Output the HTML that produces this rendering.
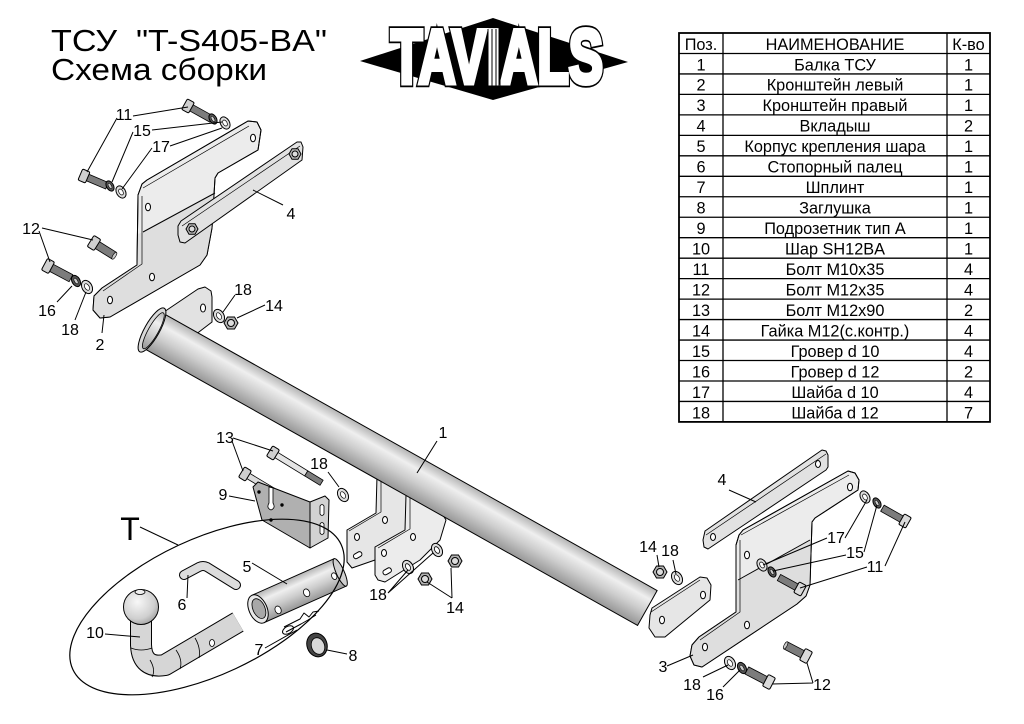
<!DOCTYPE html>
<html><head><meta charset="utf-8">
<style>
html,body{margin:0;padding:0;background:#fff;}
svg{display:block;}
text{font-family:"Liberation Sans",Arial,sans-serif;}
</style></head><body>
<svg width="1024" height="724" viewBox="0 0 1024 724" xmlns="http://www.w3.org/2000/svg">
<defs>
<linearGradient id="tg" x1="0" y1="0" x2="0" y2="1">
<stop offset="0" stop-color="#b4b4b4"/><stop offset="0.28" stop-color="#efefef"/><stop offset="0.6" stop-color="#cdcdcd"/><stop offset="1" stop-color="#979797"/>
</linearGradient>
<radialGradient id="bg" cx="0.4" cy="0.35" r="0.7">
<stop offset="0" stop-color="#f8f8f8"/><stop offset="0.7" stop-color="#cfcfcf"/><stop offset="1" stop-color="#a0a0a0"/>
</radialGradient>
</defs>

<!-- Title -->
<text x="51" y="51" font-size="31" textLength="276" lengthAdjust="spacingAndGlyphs" xml:space="preserve" fill="#000">ТСУ  "T-S405-BA"</text>
<text x="51" y="80" font-size="31" textLength="216" lengthAdjust="spacingAndGlyphs" fill="#000">Схема сборки</text>

<!-- Logo -->
<polygon points="360,61 493,18 628,62 493,100" fill="#000"/>
<text x="391" y="83" font-size="76" font-weight="bold" textLength="212" lengthAdjust="spacingAndGlyphs" fill="#000" stroke="#000" stroke-width="8.5" stroke-linejoin="miter">TAVIALS</text>
<text x="391" y="83" font-size="76" font-weight="bold" textLength="212" lengthAdjust="spacingAndGlyphs" fill="#fff" stroke="#fff" stroke-width="5" stroke-linejoin="miter">TAVIALS</text>
<g stroke="#000" stroke-width="1">
<line x1="488" y1="29" x2="488" y2="87"/><line x1="492" y1="29" x2="492" y2="87"/><line x1="496" y1="29" x2="496" y2="87"/><line x1="500" y1="29" x2="500" y2="87"/>
</g>

<!-- Table -->
<g stroke="#000" stroke-width="1.3" fill="none">
<rect x="679" y="33" width="311" height="388.9" stroke-width="1.8"/>
<line x1="723" y1="33" x2="723" y2="421.9"/>
<line x1="947" y1="33" x2="947" y2="421.9"/>
<line x1="679" y1="53.47" x2="990" y2="53.47"/>
<line x1="679" y1="73.94" x2="990" y2="73.94"/>
<line x1="679" y1="94.41" x2="990" y2="94.41"/>
<line x1="679" y1="114.88" x2="990" y2="114.88"/>
<line x1="679" y1="135.35" x2="990" y2="135.35"/>
<line x1="679" y1="155.82" x2="990" y2="155.82"/>
<line x1="679" y1="176.29" x2="990" y2="176.29"/>
<line x1="679" y1="196.76" x2="990" y2="196.76"/>
<line x1="679" y1="217.23" x2="990" y2="217.23"/>
<line x1="679" y1="237.7" x2="990" y2="237.7"/>
<line x1="679" y1="258.17" x2="990" y2="258.17"/>
<line x1="679" y1="278.64" x2="990" y2="278.64"/>
<line x1="679" y1="299.11" x2="990" y2="299.11"/>
<line x1="679" y1="319.58" x2="990" y2="319.58"/>
<line x1="679" y1="340.05" x2="990" y2="340.05"/>
<line x1="679" y1="360.52" x2="990" y2="360.52"/>
<line x1="679" y1="380.99" x2="990" y2="380.99"/>
<line x1="679" y1="401.46" x2="990" y2="401.46"/>
</g>
<g font-size="16.3" text-anchor="middle" fill="#000">
<text x="701" y="49.8">Поз.</text><text x="835" y="49.8">НАИМЕНОВАНИЕ</text><text x="968.5" y="49.8">К-во</text>
<text x="701" y="70.3">1</text><text x="835" y="70.3">Балка ТСУ</text><text x="968.5" y="70.3">1</text>
<text x="701" y="90.7">2</text><text x="835" y="90.7">Кронштейн левый</text><text x="968.5" y="90.7">1</text>
<text x="701" y="111.2">3</text><text x="835" y="111.2">Кронштейн правый</text><text x="968.5" y="111.2">1</text>
<text x="701" y="131.7">4</text><text x="835" y="131.7">Вкладыш</text><text x="968.5" y="131.7">2</text>
<text x="701" y="152.2">5</text><text x="835" y="152.2">Корпус крепления шара</text><text x="968.5" y="152.2">1</text>
<text x="701" y="172.6">6</text><text x="835" y="172.6">Стопорный палец</text><text x="968.5" y="172.6">1</text>
<text x="701" y="193.1">7</text><text x="835" y="193.1">Шплинт</text><text x="968.5" y="193.1">1</text>
<text x="701" y="213.6">8</text><text x="835" y="213.6">Заглушка</text><text x="968.5" y="213.6">1</text>
<text x="701" y="234.0">9</text><text x="835" y="234.0">Подрозетник тип А</text><text x="968.5" y="234.0">1</text>
<text x="701" y="254.5">10</text><text x="835" y="254.5">Шар SH12BA</text><text x="968.5" y="254.5">1</text>
<text x="701" y="275.0">11</text><text x="835" y="275.0">Болт М10х35</text><text x="968.5" y="275.0">4</text>
<text x="701" y="295.4">12</text><text x="835" y="295.4">Болт М12х35</text><text x="968.5" y="295.4">4</text>
<text x="701" y="315.9">13</text><text x="835" y="315.9">Болт М12х90</text><text x="968.5" y="315.9">2</text>
<text x="701" y="336.4">14</text><text x="835" y="336.4">Гайка М12(с.контр.)</text><text x="968.5" y="336.4">4</text>
<text x="701" y="356.9">15</text><text x="835" y="356.9">Гровер d 10</text><text x="968.5" y="356.9">4</text>
<text x="701" y="377.3">16</text><text x="835" y="377.3">Гровер d 12</text><text x="968.5" y="377.3">2</text>
<text x="701" y="397.8">17</text><text x="835" y="397.8">Шайба d 10</text><text x="968.5" y="397.8">4</text>
<text x="701" y="418.3">18</text><text x="835" y="418.3">Шайба d 12</text><text x="968.5" y="418.3">7</text>
</g>

<!-- ============ LEFT BRACKET 2 ============ -->
<g stroke="#000" stroke-width="1" stroke-linejoin="round">
<polygon points="147,180 248,121 257,122 261,130 258,150 218,173 215,178 212,228 207,255 200,265 110,317 100,318 93,310 94,296 102,288 137,265 138,195 142,184" fill="#ececec"/>
<polygon points="143,232 215,193 212,228 207,255 200,265 110,317 100,318 93,310 94,296 102,288 137,265 138,234" fill="#dedede" stroke="none"/>
<path d="M143,232 L215,193" fill="none"/>
<path d="M143,188 L249,126 M142,196 L142,264 L103,291" fill="none" stroke-width=".7"/>
<polygon points="147,180 248,121 257,122 261,130 258,150 218,173 215,178 212,228 207,255 200,265 110,317 100,318 93,310 94,296 102,288 137,265 138,195 142,184" fill="none"/>
<ellipse cx="148" cy="207" rx="2.5" ry="3.8" fill="#fff"/>
<ellipse cx="253" cy="138" rx="2.5" ry="3.8" fill="#fff"/>
<ellipse cx="152" cy="277" rx="2.5" ry="3.8" fill="#fff"/>
<ellipse cx="110" cy="300" rx="2.5" ry="3.8" fill="#fff"/>
</g>
<!-- Plate 4 left -->
<g stroke="#000" stroke-width="1" stroke-linejoin="round">
<polygon points="181,221 297,142 301,142 303,147 302,160 185,243 180,242 178,235 178,226" fill="#e2e2e2"/>
<path d="M182,226 L300,146" fill="none" stroke-width=".7"/>
<g transform="translate(192,229)"><polygon points="6,0 3,5.2 -3,5.2 -6,0 -3,-5.2 3,-5.2" fill="#b8b8b8"/><circle r="3" fill="#ddd"/></g>
<g transform="translate(295,154)"><polygon points="6,0 3,5.2 -3,5.2 -6,0 -3,-5.2 3,-5.2" fill="#b8b8b8"/><circle r="3" fill="#ddd"/></g>
</g>

<!-- ============ MIDDLE BRACKETS (behind tube) ============ -->
<g stroke="#000" stroke-width="1" stroke-linejoin="round">
<polygon points="347,530 376,513 377,476 382,472 386,477 387,484 410,494 410,530 375,560 352,568 347,562" fill="#e6e6e6"/>
<path d="M381,476 L381,512 L349,531" fill="none" stroke-width=".7"/>
<ellipse cx="385" cy="520" rx="2.5" ry="3.5" fill="#fff"/>
<ellipse cx="357" cy="537" rx="2.5" ry="3.5" fill="#fff"/>
<rect x="353" y="553" width="9" height="5" rx="2.5" fill="#fff" transform="rotate(-30 357 555)"/>
<polygon points="375,547 405,530 406,495 410,490 415,494 416,500 430,505 440,510 446,520 440,540 420,560 385,582 378,580 375,575" fill="#ececec"/>
<path d="M410,494 L410,529 L378,548" fill="none" stroke-width=".7"/>
<ellipse cx="413" cy="537" rx="2.5" ry="3.5" fill="#fff"/>
<ellipse cx="384" cy="553" rx="2.5" ry="3.5" fill="#fff"/>
<rect x="383" y="569" width="9" height="5" rx="2.5" fill="#fff" transform="rotate(-30 387 572)"/>
</g>

<!-- Left flange on tube -->
<g stroke="#000" stroke-width="1" stroke-linejoin="round">
<polygon points="158,316 198,289 205,287 211,291 212,297 212,322 195,335 165,335" fill="#e2e2e2"/>
<ellipse cx="203" cy="308" rx="2.5" ry="4" fill="#fff"/>
</g>

<!-- ============ TUBE 1 ============ -->
<g transform="translate(152,330) rotate(29.3)" stroke="#000" stroke-width="1">
<rect x="0" y="-20" width="568" height="40" fill="url(#tg)"/>
<ellipse cx="0" cy="0" rx="7.5" ry="25" fill="#d8d8d8"/>
<ellipse cx="1.5" cy="0" rx="5" ry="20.5" fill="url(#tg)" stroke-width=".8"/>
</g>

<!-- washers/nuts middle -->
<g stroke="#000" stroke-width="1">
<g transform="translate(408,567) rotate(-30)"><ellipse rx="5" ry="7" fill="#ddd"/><ellipse rx="2.2" ry="3.6" fill="#fff" stroke-width=".8"/></g>
<g transform="translate(437,550) rotate(-30)"><ellipse rx="5" ry="7" fill="#ddd"/><ellipse rx="2.2" ry="3.6" fill="#fff" stroke-width=".8"/></g>
<g transform="translate(425,579)"><polygon points="7,0 3.5,6 -3.5,6 -7,0 -3.5,-6 3.5,-6" fill="#b4b4b4"/><circle r="3.5" fill="#ddd"/></g>
<g transform="translate(455,561)"><polygon points="7,0 3.5,6 -3.5,6 -7,0 -3.5,-6 3.5,-6" fill="#b4b4b4"/><circle r="3.5" fill="#ddd"/></g>
</g>

<!-- ============ LEFT FASTENERS ============ -->
<g stroke="#000" stroke-width="1">
<g transform="translate(188,106) rotate(29)"><rect x="3" y="-3.5" width="24" height="7" fill="#7c7c7c" stroke-width=".8"/><rect x="-4" y="-6" width="8" height="12" rx="1.5" fill="#cfcfcf"/></g>
<g transform="translate(84,176) rotate(23)"><rect x="3" y="-3.5" width="22" height="7" fill="#7c7c7c" stroke-width=".8"/><rect x="-4" y="-6" width="8" height="12" rx="1.5" fill="#cfcfcf"/></g>
<g transform="translate(213,119) rotate(-30)"><ellipse rx="3.5" ry="5.5" fill="#555"/><ellipse rx="1.4" ry="3" fill="#ccc" stroke-width=".6"/></g>
<g transform="translate(225,123) rotate(-30)"><ellipse rx="4.5" ry="6.5" fill="#ddd"/><ellipse rx="2" ry="3.3" fill="#fff" stroke-width=".7"/></g>
<g transform="translate(110,186) rotate(-30)"><ellipse rx="3.5" ry="5.5" fill="#555"/><ellipse rx="1.4" ry="3" fill="#ccc" stroke-width=".6"/></g>
<g transform="translate(121,192) rotate(-30)"><ellipse rx="4.5" ry="6.5" fill="#ddd"/><ellipse rx="2" ry="3.3" fill="#fff" stroke-width=".7"/></g>
<g transform="translate(94,243) rotate(32)"><rect x="3" y="-4" width="21" height="8" fill="#7c7c7c" stroke-width=".8"/><ellipse cx="24" rx="1.5" ry="4" fill="#ccc" stroke-width=".6"/><rect x="-4" y="-6.5" width="8" height="13" rx="1.5" fill="#cfcfcf"/></g>
<g transform="translate(48,266) rotate(28)"><rect x="3" y="-4" width="23" height="8" fill="#7c7c7c" stroke-width=".8"/><rect x="-4" y="-6.5" width="8" height="13" rx="1.5" fill="#cfcfcf"/></g>
<g transform="translate(76,281) rotate(-30)"><ellipse rx="4" ry="6" fill="#555"/><ellipse rx="1.6" ry="3.2" fill="#ccc" stroke-width=".6"/></g>
<g transform="translate(87,287) rotate(-30)"><ellipse rx="5" ry="7" fill="#ddd"/><ellipse rx="2.2" ry="3.6" fill="#fff" stroke-width=".7"/></g>
<g transform="translate(219,316) rotate(-30)"><ellipse rx="5" ry="7" fill="#ddd"/><ellipse rx="2.2" ry="3.6" fill="#fff" stroke-width=".7"/></g>
<g transform="translate(231,323)"><polygon points="7,0 3.5,6 -3.5,6 -7,0 -3.5,-6 3.5,-6" fill="#b4b4b4"/><circle r="3.5" fill="#ddd"/></g>
</g>

<!-- ============ PART 9 + BOLTS 13 ============ -->
<g stroke="#000" stroke-width="1" stroke-linejoin="round">
<g transform="translate(245,474) rotate(31)"><rect x="3" y="-3" width="30" height="6" fill="#dcdcdc" stroke-width=".8"/><rect x="-4" y="-6" width="8" height="12" rx="1.5" fill="#cfcfcf"/></g>
<polygon points="253,487 258,482 310,502 310,548 262,520" fill="#b0b0b0"/>
<polygon points="310,502 325,496 329,500 328,538 310,548" fill="#d2d2d2"/>
<path d="M269,487 L269,503 Q266,508 271,510 Q276,508 273,503 L273,488 Z" fill="#fff" stroke-width=".8"/>
<path d="M320,506 L320,514 Q322,517 324,514 L324,506 Q322,503 320,506 Z" fill="#fff" stroke-width=".8"/>
<path d="M320,524 L320,533 Q322,536 324,533 L324,524 Q322,521 320,524 Z" fill="#fff" stroke-width=".8"/>
<circle cx="259" cy="492" r="1.2" fill="#000"/><circle cx="282" cy="505" r="1.2" fill="#000"/><circle cx="271" cy="520" r="1.2" fill="#000"/>
<g transform="translate(273,453) rotate(31.5)"><rect x="3" y="-3" width="36" height="6" fill="#e4e4e4" stroke-width=".8"/><rect x="39" y="-3" width="18" height="6" fill="#7c7c7c" stroke-width=".8"/><rect x="-4" y="-6" width="8" height="12" rx="1.5" fill="#cfcfcf"/></g>
<g transform="translate(343,495) rotate(-30)"><ellipse rx="5" ry="7" fill="#ddd"/><ellipse rx="2.2" ry="3.6" fill="#fff" stroke-width=".7"/></g>
</g>

<!-- ============ T GROUP ============ -->
<g stroke="#000" stroke-linejoin="round">
<path d="M141,620 L141,645 Q142,669 165,665 L238,622" fill="none" stroke="#000" stroke-width="22"/>
<path d="M141,620 L141,645 Q142,669 165,665 L238,622" fill="none" stroke="#d6d6d6" stroke-width="20"/>
<path d="M131,648 Q141,652 152,648 M150,660 Q156,670 152,677 M176,650 Q183,660 180,669 M195,638 Q201,648 199,658" fill="none" stroke-width=".8"/>
<ellipse cx="212" cy="643" rx="2.5" ry="3.5" fill="#fff" stroke-width=".8"/>
<circle cx="141" cy="607" r="17.5" fill="url(#bg)" stroke-width="1"/>
<ellipse cx="140" cy="592" rx="5" ry="2.5" fill="#eee" stroke-width=".8"/>
<path d="M184,575 L199,567 Q203,565 207,567 L236,585" fill="none" stroke="#000" stroke-width="10" stroke-linecap="round"/>
<path d="M184,575 L199,567 Q203,565 207,567 L236,585" fill="none" stroke="#dcdcdc" stroke-width="8" stroke-linecap="round"/>
<g transform="translate(258,609) rotate(-24)" stroke-width="1">
<rect x="0" y="-15" width="90" height="30" fill="url(#tg)"/>
<ellipse cx="90" cy="0" rx="4" ry="15" fill="#cfcfcf"/>
<ellipse cx="0" cy="0" rx="9" ry="15" fill="#e8e8e8"/>
<ellipse cx="1" cy="0" rx="6" ry="10.5" fill="#a8a8a8" stroke-width=".8"/>
<ellipse cx="18" cy="9" rx="3" ry="4" fill="#fff" stroke-width=".8"/>
<ellipse cx="51" cy="5" rx="3" ry="4" fill="#fff" stroke-width=".8"/>
<ellipse cx="83" cy="1" rx="2.5" ry="3.5" fill="#fff" stroke-width=".8"/>
</g>
<ellipse cx="288" cy="630" rx="6" ry="3.5" transform="rotate(-30 288 630)" fill="none" stroke-width="1"/>
<path d="M284,627 L300,619 L304,613 L309,617 L313,612 L319,611 M286,632 L301,624 L308,620 L316,615" fill="none" stroke-width="1"/>
<ellipse cx="317" cy="645" rx="10" ry="12" transform="rotate(-20 317 645)" fill="#444" stroke-width="1"/>
<ellipse cx="318" cy="646" rx="6.5" ry="8.5" transform="rotate(-20 318 646)" fill="#d8d8d8" stroke-width=".8"/>
<ellipse cx="207" cy="607" rx="148" ry="68" transform="rotate(-25 207 607)" fill="none" stroke-width="1.2"/>
</g>

<!-- ============ RIGHT SIDE ============ -->
<g stroke="#000" stroke-width="1" stroke-linejoin="round">
<g transform="translate(660,572)"><polygon points="7,0 3.5,6 -3.5,6 -7,0 -3.5,-6 3.5,-6" fill="#b4b4b4"/><circle r="3.5" fill="#ddd"/></g>
<g transform="translate(677,578) rotate(-30)"><ellipse rx="5" ry="7" fill="#ddd"/><ellipse rx="2.2" ry="3.6" fill="#fff" stroke-width=".7"/></g>
<polygon points="652,608 700,577 707,578 711,585 710,600 665,637 655,637 649,628 650,615" fill="#e6e6e6"/>
<path d="M651,612 L700,580" fill="none" stroke-width=".7"/>
<ellipse cx="662" cy="620" rx="2.5" ry="3.8" fill="#fff"/>
<ellipse cx="703" cy="595" rx="2.5" ry="3.8" fill="#fff"/>
<polygon points="705,531 822,450 826,451 828,455 828,467 826,470 708,549 704,547 703,540" fill="#e2e2e2"/>
<path d="M706,535 L826,454" fill="none" stroke-width=".7"/>
<ellipse cx="713" cy="537" rx="2.5" ry="3.5" fill="#fff"/>
<ellipse cx="818" cy="464" rx="2.5" ry="3.5" fill="#fff"/>
<polygon points="743,530 848,471 855,473 859,480 858,490 815,518 812,522 810,585 806,596 797,604 702,667 694,665 690,656 692,645 699,637 736,612 736,545 739,535" fill="#ececec"/>
<polygon points="738,580 810,540 810,585 806,596 797,604 702,667 694,665 690,656 692,645 699,637 736,612 736,580" fill="#dedede" stroke="none"/>
<path d="M738,580 L810,540" fill="none"/>
<path d="M741,535 L849,475 M740,540 L740,612 L700,640" fill="none" stroke-width=".7"/>
<polygon points="743,530 848,471 855,473 859,480 858,490 815,518 812,522 810,585 806,596 797,604 702,667 694,665 690,656 692,645 699,637 736,612 736,545 739,535" fill="none"/>
<ellipse cx="850" cy="487" rx="2.5" ry="3.8" fill="#fff"/>
<ellipse cx="747" cy="555" rx="2.5" ry="3.8" fill="#fff"/>
<ellipse cx="747" cy="625" rx="2.5" ry="3.8" fill="#fff"/>
<ellipse cx="705" cy="647" rx="2.5" ry="3.8" fill="#fff"/>
<g transform="translate(865,497) rotate(-30)"><ellipse rx="4.5" ry="6.5" fill="#ddd"/><ellipse rx="2" ry="3.3" fill="#fff" stroke-width=".7"/></g>
<g transform="translate(877,503) rotate(-30)"><ellipse rx="3.5" ry="5.5" fill="#555"/><ellipse rx="1.4" ry="3" fill="#ccc" stroke-width=".6"/></g>
<g transform="translate(762,565) rotate(-30)"><ellipse rx="4.5" ry="6.5" fill="#ddd"/><ellipse rx="2" ry="3.3" fill="#fff" stroke-width=".7"/></g>
<g transform="translate(772,572) rotate(-30)"><ellipse rx="3.5" ry="5.5" fill="#555"/><ellipse rx="1.4" ry="3" fill="#ccc" stroke-width=".6"/></g>
<g transform="translate(905,521) rotate(209.5)"><rect x="3" y="-3.5" width="23" height="7" fill="#7c7c7c" stroke-width=".8"/><rect x="-4" y="-6" width="8" height="12" rx="1.5" fill="#dadada"/></g>
<g transform="translate(800,589) rotate(208.6)"><rect x="3" y="-3.5" width="21" height="7" fill="#7c7c7c" stroke-width=".8"/><rect x="-4" y="-6" width="8" height="12" rx="1.5" fill="#dadada"/></g>
<g transform="translate(730,663) rotate(-30)"><ellipse rx="5" ry="7" fill="#ddd"/><ellipse rx="2.2" ry="3.6" fill="#fff" stroke-width=".7"/></g>
<g transform="translate(742,668) rotate(-30)"><ellipse rx="4" ry="6" fill="#555"/><ellipse rx="1.6" ry="3.2" fill="#ccc" stroke-width=".6"/></g>
<g transform="translate(769,682) rotate(207.5)"><rect x="3" y="-4" width="22" height="8" fill="#7c7c7c" stroke-width=".8"/><rect x="-4" y="-6.5" width="8" height="13" rx="1.5" fill="#dadada"/></g>
<g transform="translate(806,656) rotate(207.6)"><rect x="3" y="-4" width="20" height="8" fill="#7c7c7c" stroke-width=".8"/><ellipse cx="23" rx="1.5" ry="4" fill="#ccc" stroke-width=".6"/><rect x="-4" y="-6.5" width="8" height="13" rx="1.5" fill="#dadada"/></g>
</g>

<!-- ============ LEADER LINES ============ -->
<g stroke="#000" stroke-width="1" fill="none">
<path d="M133,116 L188,107 M117,118 L87,172"/>
<path d="M152,130 L222,122 M133,132 L112,182"/>
<path d="M170,146 L222,128 M152,148 L122,189"/>
<path d="M42,228 L93,240 M39,231 L50,262"/>
<path d="M57,302 L72,286 M75,320 L86,292 M102,333 L104,315"/>
<path d="M283,205 L253,190"/>
<path d="M235,295 L223,312 M265,305 L237,318"/>
<path d="M437,441 L417,473"/>
<path d="M233,438 L273,451 M232,441 L243,471"/>
<path d="M328,472 L339,487 M229,496 L255,501"/>
<path d="M140,527 L178,545"/>
<path d="M187,598 L188,575 M252,563 L287,584 M105,634 L140,637"/>
<path d="M265,648 L297,630 M347,654 L327,650"/>
<path d="M388,593 L408,570 M388,593 L433,553"/>
<path d="M452,598 L427,582 M452,598 L451,568"/>
<path d="M729,490 L756,502"/>
<path d="M657,555 L659,567 M673,560 L676,574"/>
<path d="M827,538 L763,565 M845,538 L867,500"/>
<path d="M846,555 L773,571 M864,552 L877,505"/>
<path d="M867,567 L800,588 M885,566 L905,522"/>
<path d="M667,666 L693,655 M703,677 L728,665 M723,687 L740,670"/>
<path d="M813,683 L772,684 M813,683 L807,663"/>
</g>

<!-- ============ LABELS ============ -->
<g font-size="16" text-anchor="middle" fill="#000">
<text x="124" y="120">11</text>
<text x="142" y="136">15</text>
<text x="161" y="152">17</text>
<text x="31" y="234">12</text>
<text x="47" y="316">16</text>
<text x="70" y="335">18</text>
<text x="100" y="350">2</text>
<text x="291" y="219">4</text>
<text x="243" y="295">18</text>
<text x="274" y="311">14</text>
<text x="443" y="438">1</text>
<text x="225" y="443">13</text>
<text x="319" y="469">18</text>
<text x="223" y="500">9</text>
<text x="182" y="610">6</text>
<text x="247" y="572">5</text>
<text x="95" y="638">10</text>
<text x="259" y="655">7</text>
<text x="353" y="661">8</text>
<text x="378" y="600">18</text>
<text x="455" y="613">14</text>
<text x="722" y="485">4</text>
<text x="648" y="552">14</text>
<text x="670" y="556">18</text>
<text x="836" y="543">17</text>
<text x="855" y="558">15</text>
<text x="875" y="572">11</text>
<text x="663" y="672">3</text>
<text x="692" y="690">18</text>
<text x="715" y="700">16</text>
<text x="822" y="690">12</text>
</g>
<text x="130" y="540" font-size="32" text-anchor="middle" fill="#000">T</text>
</svg>
</body></html>
